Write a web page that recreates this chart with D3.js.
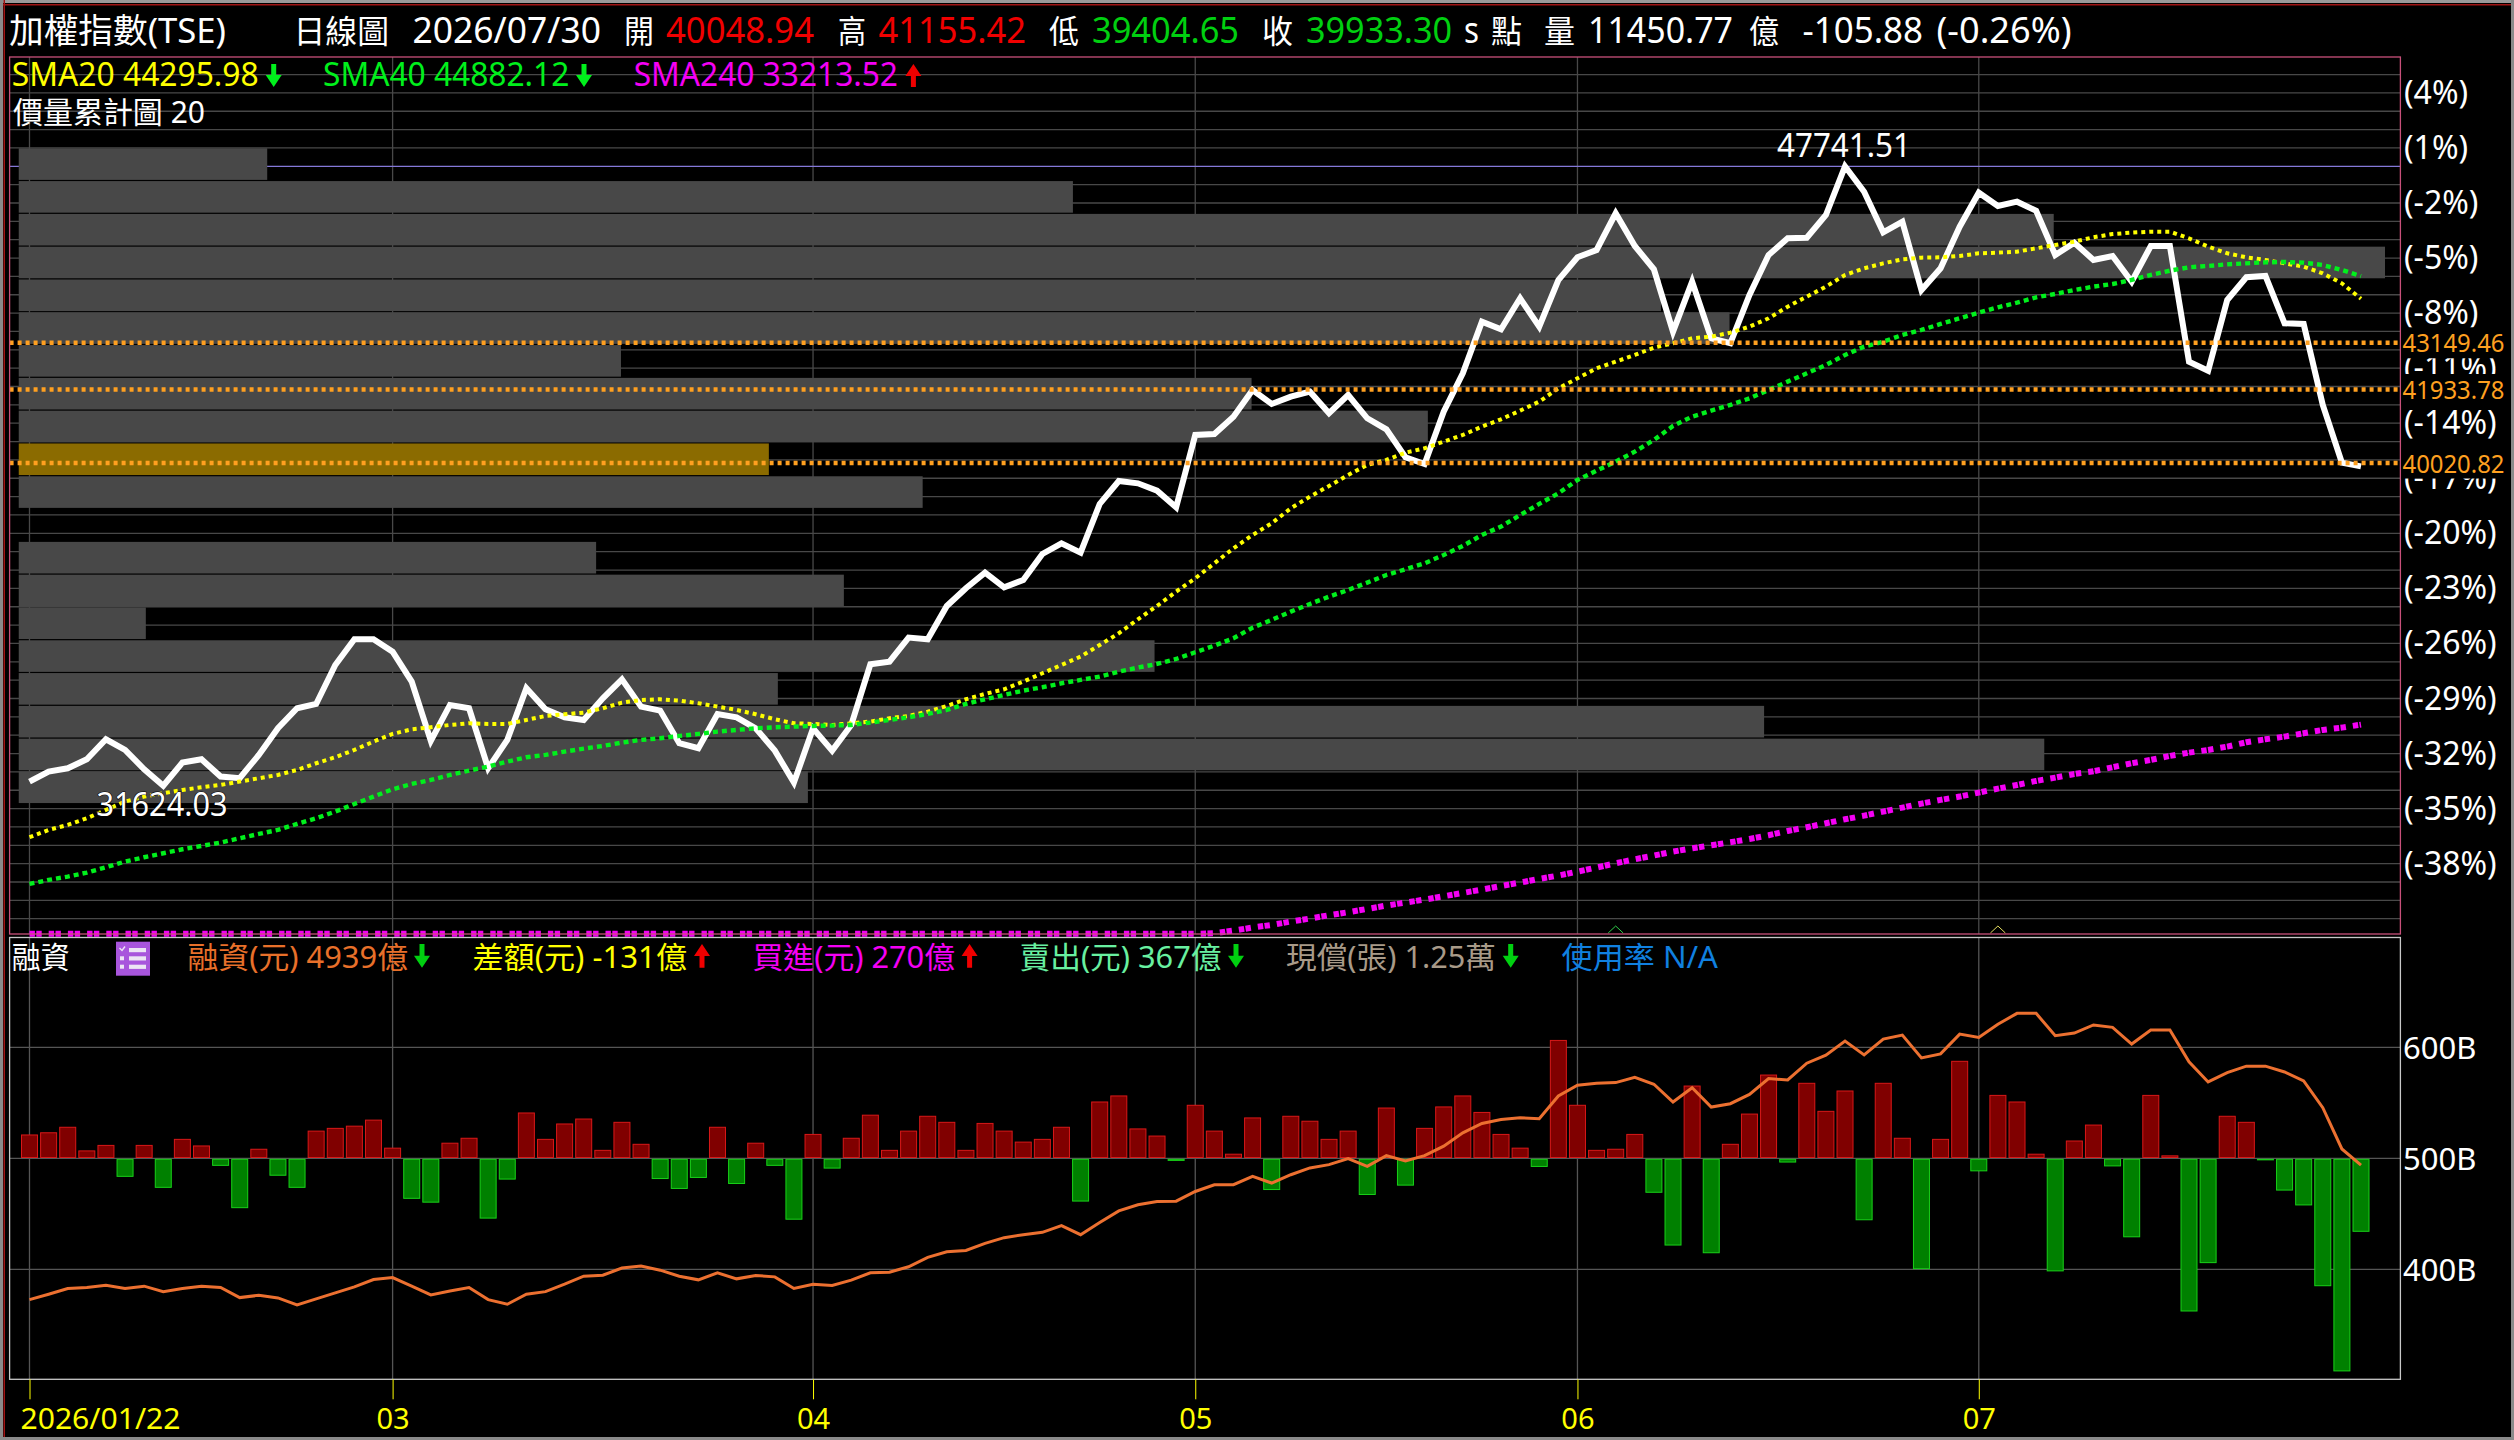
<!DOCTYPE html>
<html lang="zh-Hant">
<head>
<meta charset="utf-8">
<script src="https://cdn.jsdelivr.net/npm/d3@7"></script>
<style>
  html, body { margin: 0; padding: 0; background: #000; }
  svg { display: block; }
  text { font-family: "Noto Sans", "Noto Sans CJK TC", sans-serif; }
</style>
</head>
<body>
<script>
// daily close, 2026/01/22 .. 2026/07/30
const closes = [31732,31992,32079,32313,32833,32556,32053,31624,32226,32313,31862,31819,32426,33119,33640,33752,34767,35435,35435,35114,
  34333,32790,33726,33640,32079,32816,34160,33614,33405,33336,33900,34394,33683,33579,32729,32599,33492,33405,33119,32538,
  31706,33119,32538,33206,34784,34854,35478,35435,36302,36762,37169,36788,36978,37655,37932,37690,38956,39554,39493,39302,
  38869,40751,40777,41227,41921,41557,41747,41877,41315,41791,41185,40899,40170,39996,41357,42356,43698,43501,44307,43568,
  44783,45374,45564,46519,45668,45062,43438,44739,43266,43137,44393,45434,45868,45884,46474,47741.51,47081,46024,46300,44523,
  45088,46170,47055,46709,46821,46586,45434,45754,45304,45408,44739,45668,45668,42658,42424,44263,44854,44888,43657,43639,
  41531,40030,39933.30];

const sma20 = [30284,30474,30604,30778,30995,31212,31342,31428,31515,31584,31645,31732,31819,31905,32035,32209,32365,32556,32772,32972,
  33093,33145,33206,33249,33232,33232,33336,33440,33484,33527,33640,33787,33856,33874,33839,33770,33683,33596,33484,33354,
  33249,33232,33206,33249,33293,33380,33440,33553,33700,33874,34013,34134,34333,34550,34767,34984,35287,35591,35955,36302,
  36675,37022,37412,37802,38149,38453,38843,39146,39424,39710,39971,40101,40291,40404,40578,40751,40968,41159,41384,41618,
  41965,42225,42485,42659,42832,43023,43136,43266,43309,43413,43569,43786,44090,44350,44610,44914,45087,45217,45321,45365,
  45373,45408,45477,45495,45521,45607,45694,45781,45894,45980,46015,46041,46041,45868,45651,45477,45373,45304,45217,45130,
  44957,44697,44296];

const sma40 = [29070,29174,29260,29364,29503,29651,29763,29867,29971,30058,30145,30258,30370,30474,30631,30778,30951,31151,31342,31532,
  31671,31775,31905,32018,32122,32252,32365,32426,32512,32590,32660,32746,32816,32859,32920,32972,33033,33076,33119,33145,
  33163,33180,33189,33206,33267,33336,33405,33492,33596,33752,33874,33987,34099,34186,34290,34377,34464,34594,34698,34793,
  34923,35097,35270,35461,35738,35938,36155,36354,36545,36718,36909,37108,37256,37412,37629,37863,38149,38366,38669,38956,
  39233,39580,39823,40057,40317,40621,40985,41228,41384,41532,41705,41922,42139,42355,42572,42832,43049,43179,43353,43483,
  43639,43786,43934,44072,44194,44332,44419,44523,44610,44679,44784,44914,45026,45113,45148,45191,45217,45243,45252,45234,
  45174,45044,44882];

// below the visible range until May, the platform pins it on the panel floor
const sma240 = [27770,27770,27770,27770,27770,27770,27770,27770,27770,27770,27770,27770,27770,27770,27770,27770,27770,27770,27770,27770,
  27770,27770,27770,27770,27770,27770,27770,27770,27770,27770,27770,27770,27770,27770,27770,27770,27770,27770,27770,27770,
  27770,27770,27770,27770,27770,27770,27770,27770,27770,27770,27770,27770,27770,27770,27770,27770,27770,27770,27770,27770,
  27770,27770,27786,27855,27934,28003,28090,28168,28255,28333,28419,28506,28584,28662,28749,28835,28922,29017,29104,29200,
  29286,29390,29495,29607,29711,29807,29911,29997,30075,30153,30240,30336,30448,30544,30648,30752,30847,30951,31055,31159,
  31255,31342,31446,31550,31645,31749,31836,31931,32001,32105,32209,32296,32400,32486,32556,32642,32755,32833,32903,32989,
  33076,33137,33214];

// margin balance (億)
const marginBalance = [3727,3775,3827,3836,3857,3827,3848,3799,3827,3848,3836,3745,3766,3742,3679,3733,3787,3842,3908,3926,
  3848,3769,3805,3836,3727,3685,3775,3799,3866,3938,3947,4011,4029,3992,3938,3905,3968,3914,3944,3932,
  3827,3866,3854,3902,3968,3974,4023,4107,4158,4170,4234,4285,4312,4333,4394,4312,4421,4526,4581,4611,
  4614,4701,4762,4762,4837,4777,4852,4913,4943,4997,4928,5024,4976,5024,5109,5229,5314,5350,5365,5356,
  5561,5658,5676,5682,5730,5667,5507,5636,5462,5492,5576,5718,5706,5857,5929,6056,5932,6074,6110,5905,
  5941,6119,6089,6207,6306,6306,6104,6128,6201,6180,6029,6155,6155,5869,5688,5772,5830,5830,5778,5697,
  5456,5084,4939];

// daily change of the balance (億)
const marginDiff = [41,45,55,12,22,-31,22,-51,33,21,-11,-88,15,-29,-51,48,53,57,68,17,
  -71,-78,26,35,-107,-36,81,33,61,70,13,64,24,-35,-53,-33,55,-44,26,-11,
  -109,42,-16,35,77,13,48,75,64,13,62,48,28,33,55,-76,101,112,52,39,
  -2,95,48,6,72,-55,75,66,33,48,-64,90,-47,53,92,112,82,42,17,-13,
  213,95,13,15,42,-60,-156,130,-170,24,79,150,-5,135,84,121,-110,135,35,-199,
  33,175,-21,113,101,6,-203,30,59,-12,-141,113,3,-276,-188,75,64,-1,-56,-83,
  -230,-385,-131];

// price-volume profile: top price of each row and volume as % of the largest row
const profileTop = [48210,47357,46503,45650,44796,43943,43090,42236,41383,40530,39676,38823,37969,37116,36263,35409,34556,33702,32849,31996];
const profilePct = [10.5,44.55,86,100,69.4,72.3,25.45,52.1,59.55,31.7,38.2,0,24.4,34.87,5.37,48,32.08,73.76,85.6,33.35];
const profileStep = 853.4;
const profileGold = 9;

const peak = 47741.51;
const lowest = 31624.03;
const priceLevels = [43149.46, 41933.78, 40020.82];
const pctTicks = [4,1,-2,-5,-8,-11,-14,-17,-20,-23,-26,-29,-32,-35,-38];
const monthIdx = [0,19,41,61,81,102];
const monthLabels = ["2026/01/22","03","04","05","06","07"];
const marginTicks = [4000,5000,6000];
const signalIdx = [83,103];
const signalColors = ["#2fd04a","#e8e060"];

const W = 2514, H = 1440;
const svg = d3.select("body").append("svg").attr("width", W).attr("height", H);
svg.append("rect").attr("width", W).attr("height", H).attr("fill", "#000");

const left = 9.6, right = 2400.4;
const top1 = 57, bottom1 = 934, top2 = 937.5, bottom2 = 1379.3;

const x = d3.scaleLinear().domain([0, closes.length - 1]).range([29.5, 2361]);
const y = d3.scaleLinear().domain([peak, 27769]).range([166.3, 933.9]);
const pctY = d3.scaleLinear().domain([0, -41]).range([166.3, 918.7]);
const profileX = d3.scaleLinear().domain([0, 100]).range([18.75, 2385]);
const yMargin = d3.scaleLinear().domain([5000, 4000]).range([1158.3, 1269.3]);
const yDiff = d3.scaleLinear().domain([0, -131]).range([1158.5, 1230.5]);

// window frame
svg.append("rect").attr("width", W).attr("height", 3).attr("fill", "#9a9a9a");
svg.append("rect").attr("y", 4).attr("width", W).attr("height", 1.5).attr("fill", "#a01414");
svg.append("rect").attr("width", 3).attr("height", H).attr("fill", "#8a8a8a");
svg.append("rect").attr("x", 3.5).attr("width", 1.5).attr("height", H).attr("fill", "#a01414");
svg.append("rect").attr("y", H - 3).attr("width", W).attr("height", 3).attr("fill", "#8a8a8a");
svg.append("rect").attr("x", W - 3).attr("width", 3).attr("height", H).attr("fill", "#8a8a8a");

const gridColor = "#484848";

// grids
svg.append("g").selectAll("line").data(d3.range(-41, 6).filter(d => d !== 0)).join("line")
  .attr("x1", left).attr("x2", right)
  .attr("y1", d => pctY(d)).attr("y2", d => pctY(d))
  .attr("stroke", gridColor).attr("stroke-width", 1.3);

svg.append("g").selectAll("line").data(monthIdx).join("line")
  .attr("x1", d => x(d)).attr("x2", d => x(d))
  .attr("y1", top1).attr("y2", bottom1)
  .attr("stroke", gridColor).attr("stroke-width", 1.3);

svg.append("line").attr("x1", left).attr("x2", right)
  .attr("y1", y(peak)).attr("y2", y(peak))
  .attr("stroke", "#8478d8").attr("stroke-width", 1.3);

// volume profile
svg.append("g").selectAll("rect").data(profilePct).join("rect")
  .attr("x", profileX(0))
  .attr("y", (d, i) => y(profileTop[i]))
  .attr("width", d => profileX(d) - profileX(0))
  .attr("height", (d, i) => y(profileTop[i] - profileStep) - y(profileTop[i]) - 1.2)
  .attr("fill", (d, i) => i === profileGold ? "#8b6b00" : "#484848");

// price lines
const line1 = d3.line().x((d, i) => x(i)).y(d => y(d));
function drawLine(values, color, width, dash) {
  svg.append("path").datum(values)
    .attr("d", line1)
    .attr("fill", "none")
    .attr("stroke", color)
    .attr("stroke-width", width)
    .attr("stroke-dasharray", dash)
    .attr("stroke-linejoin", "miter")
    .attr("stroke-miterlimit", 4);
}
drawLine(closes, "#fff", 6, null);
drawLine(sma240, "#f400f4", 6, "5.4 1.4 5.4 7");
drawLine(sma20, "#ffff00", 4, "4 4");
drawLine(sma40, "#00f01c", 4.4, "5 4");

// support / resistance levels
svg.append("g").selectAll("line").data(priceLevels).join("line")
  .attr("x1", left).attr("x2", right)
  .attr("y1", d => y(d)).attr("y2", d => y(d))
  .attr("stroke", "#ffa020").attr("stroke-width", 4.4)
  .attr("stroke-dasharray", "4 4");

// signal triangles on the panel floor
svg.append("g").selectAll("path").data(signalIdx).join("path")
  .attr("d", d => `M${x(d) - 7.5},933 L${x(d)},926 L${x(d) + 7.5},933`)
  .attr("fill", "none")
  .attr("stroke", (d, i) => signalColors[i])
  .attr("stroke-width", 1);

// lower panel
svg.append("g").selectAll("line").data(marginTicks).join("line")
  .attr("x1", left).attr("x2", right)
  .attr("y1", d => yMargin(d)).attr("y2", d => yMargin(d))
  .attr("stroke", "#555").attr("stroke-width", 1.3);

svg.append("g").selectAll("line").data(monthIdx).join("line")
  .attr("x1", d => x(d)).attr("x2", d => x(d))
  .attr("y1", top2).attr("y2", bottom2)
  .attr("stroke", "#555").attr("stroke-width", 1.3);

const barW = 16;
svg.append("g").selectAll("rect").data(marginDiff).join("rect")
  .attr("x", (d, i) => x(i) - barW / 2)
  .attr("y", d => d >= 0 ? yDiff(d) - 1 : yDiff(0) + 0.8)
  .attr("width", barW)
  .attr("height", d => Math.abs(yDiff(d) - yDiff(0)))
  .attr("fill", d => d >= 0 ? "#800000" : "#008000")
  .attr("stroke", d => d >= 0 ? "#d81818" : "#18d018")
  .attr("stroke-width", 1);

svg.append("path").datum(marginBalance)
  .attr("d", d3.line().x((d, i) => x(i)).y(d => yMargin(d)))
  .attr("fill", "none")
  .attr("stroke", "#ec7030")
  .attr("stroke-width", 3);

// panel borders
svg.append("rect").attr("x", left).attr("y", top1).attr("width", right - left).attr("height", bottom1 - top1)
  .attr("fill", "none").attr("stroke", "#c8507a").attr("stroke-width", 1.3);
svg.append("rect").attr("x", left).attr("y", top2).attr("width", right - left).attr("height", bottom2 - top2)
  .attr("fill", "none").attr("stroke", "#c8c8c8").attr("stroke-width", 1.3);

// right axes
const pctAxis = d3.axisRight(pctY).tickValues(pctTicks).tickSize(0).tickPadding(0)
  .tickFormat(d => `(${d}%)`);
const pctG = svg.append("g").attr("transform", "translate(2404,0)").call(pctAxis);
pctG.select(".domain").remove();
pctG.selectAll("text").attr("fill", "#fff").attr("font-size", 32)
  .attr("font-family", '"Noto Sans", sans-serif').attr("x", 0).attr("dy", "0.33em");

const marginAxis = d3.axisRight(yMargin).tickValues(marginTicks).tickSize(0).tickPadding(0)
  .tickFormat(d => (d / 10) + "B");
const marginG = svg.append("g").attr("transform", "translate(2403,0)").call(marginAxis);
marginG.select(".domain").remove();
marginG.selectAll("text").attr("fill", "#fff").attr("font-size", 31)
  .attr("font-family", '"Noto Sans", sans-serif').attr("x", 0).attr("dy", "0.35em");

// price tags sit on a black plate and cut the % labels behind them
svg.append("g").selectAll("rect").data(priceLevels).join("rect")
  .attr("x", 2401.5).attr("y", d => y(d) - 15.5)
  .attr("width", 108).attr("height", 31).attr("fill", "#000");
svg.append("g").selectAll("text").data(priceLevels).join("text")
  .attr("x", 2402.5).attr("y", d => y(d) + 9.5)
  .attr("font-size", 25)
  .attr("fill", "#ffa020")
  .attr("textLength", 102).attr("lengthAdjust", "spacingAndGlyphs")
  .text(d => d.toFixed(2));

// bottom axis
const timeAxis = d3.axisBottom(x).tickValues(monthIdx).tickSize(20).tickPadding(9)
  .tickFormat((d, i) => monthLabels[i]);
const timeG = svg.append("g").attr("transform", `translate(0,${bottom2})`).call(timeAxis);
timeG.select(".domain").remove();
timeG.selectAll("line").attr("stroke", "#ffff00");
timeG.selectAll("text").attr("fill", "#ffff00").attr("font-size", 29)
  .attr("font-family", '"Noto Sans", sans-serif');
timeG.selectAll(".tick").filter(d => d === 0).select("text")
  .attr("text-anchor", "start").attr("x", 20 - x(0))
  .attr("textLength", 160).attr("lengthAdjust", "spacingAndGlyphs");

// text helper: x0..x1 is the measured span of the string
function label(x0, x1, base, txt, color, size) {
  const t = svg.append("text").attr("x", x0).attr("y", base)
    .attr("fill", color).attr("font-size", size).text(txt);
  if (x1) t.attr("textLength", x1 - x0).attr("lengthAdjust", "spacingAndGlyphs");
  return t;
}
function arrow(cx, y0, y1, up, color) {
  const tip = up ? y0 : y1, back = up ? y0 + 12 : y1 - 12, tail = up ? y1 : y0;
  svg.append("path")
    .attr("d", `M${cx},${tip} L${cx + 8},${back} L${cx + 2.5},${back} L${cx + 2.5},${tail} L${cx - 2.5},${tail} L${cx - 2.5},${back} L${cx - 8},${back} Z`)
    .attr("fill", color);
}

// header line
const fg = "#fff", up = "#f00000", dn = "#00d010";
label(9, 226, 43, "加權指數(TSE)", fg, 34);
label(293.5, 389, 43, "日線圖", fg, 32);
label(412.5, 601, 43, "2026/07/30", fg, 35.5);
label(624, 654, 43, "開", fg, 32);
label(666, 814, 43, "40048.94", up, 35.5);
label(838, 866, 43, "高", fg, 32);
label(878.5, 1026, 43, "41155.42", up, 35.5);
label(1049, 1079, 43, "低", fg, 32);
label(1092, 1239, 43, "39404.65", dn, 35.5);
label(1262, 1293, 43, "收", fg, 32);
label(1306, 1452, 43, "39933.30", dn, 35.5);
label(1464, 1479, 43, "s", fg, 35.5);
label(1491, 1522, 43, "點", fg, 32);
label(1544, 1575, 43, "量", fg, 32);
label(1588, 1733, 43, "11450.77", fg, 35.5);
label(1749, 1779, 43, "億", fg, 32);
label(1802.5, 1923, 43, "-105.88", fg, 35.5);
label(1936.5, 2071.5, 43, "(-0.26%)", fg, 35.5);

// moving-average legend
label(11.8, 258.7, 86, "SMA20 44295.98", "#ffff00", 32);
arrow(273.7, 64, 87, false, "#00f01c");
label(323, 569.4, 86, "SMA40 44882.12", "#00f01c", 32);
arrow(584, 64, 87, false, "#00f01c");
label(633.7, 898, 86, "SMA240 33213.52", "#f400f4", 32);
arrow(913.4, 64, 87, true, "#f00000");
label(12.9, 205, 122.7, "價量累計圖 20", fg, 30);

// high / low marks
label(1777, 1911, 156.7, "47741.51", fg, 32);
label(96.4, 227.6, 816, lowest.toFixed(2), fg, 32)
  .attr("stroke", "#000").attr("stroke-width", 1.2).attr("paint-order", "stroke");

// margin legend
label(11.8, 69.6, 967.7, "融資", fg, 30);
svg.append("rect").attr("x", 116).attr("y", 941.7).attr("width", 34).attr("height", 34).attr("fill", "#a855dc");
svg.append("g").selectAll("rect").data([950, 958.3, 966.7]).join("rect")
  .attr("x", 129).attr("y", d => d - 2).attr("width", 17).attr("height", 4.2).attr("fill", "#ece4f4");
svg.append("g").selectAll("rect").data([958.3, 966.7]).join("rect")
  .attr("x", 120).attr("y", d => d - 2).attr("width", 4).attr("height", 4).attr("fill", "#ece4f4");
svg.append("path").attr("d", "M119.5,948 L122,950.5 L125,946.5").attr("fill", "none").attr("stroke", "#ece4f4").attr("stroke-width", 1.4);

label(187.5, 408, 967.7, "融資(元) 4939億", "#e8702a", 30);
arrow(422, 944, 967.7, false, "#00d010");
label(472.5, 687, 967.7, "差額(元) -131億", "#ffff00", 30);
arrow(702, 944, 967.7, true, "#f00000");
label(752.6, 955, 967.7, "買進(元) 270億", "#f400f4", 30);
arrow(969.6, 944, 967.7, true, "#f00000");
label(1019.5, 1221.4, 967.7, "賣出(元) 367億", "#68f0a0", 30);
arrow(1236, 944, 967.7, false, "#00d010");
label(1286, 1496, 967.7, "現償(張) 1.25萬", "#a89a88", 30);
arrow(1510.7, 944, 967.7, false, "#00d010");
label(1561.6, 1718, 967.7, "使用率 N/A", "#1080e0", 30);
</script>
</body>
</html>
